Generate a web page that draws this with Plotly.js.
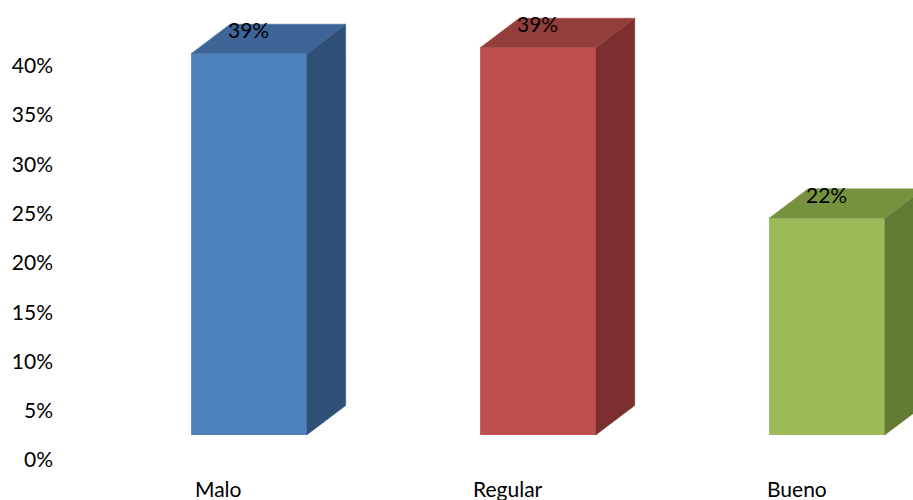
<!DOCTYPE html>
<html>
<head>
<meta charset="utf-8">
<script src="https://cdn.plot.ly/plotly-3.0.1.min.js"></script>
<style>
html,body{margin:0;padding:0;background:#fff;}
#chart{width:913px;height:500px;}
</style>
</head>
<body>
<div id="chart"></div>
<script>
// ---- data ----
const categories = ["Malo", "Regular", "Bueno"];
const values = [0.387, 0.393, 0.220];
const tickValues = [0, 0.05, 0.10, 0.15, 0.20, 0.25, 0.30, 0.35, 0.40];

// ---- styles ----
const frontColors = ["#4F81BD", "#C0504D", "#9BBB59"];
const topColors   = ["#3D6597", "#943E3C", "#77923F"];
const sideColors  = ["#2F5178", "#7B2F2E", "#627A33"];
const FONT = "Lato, 'Open Sans', sans-serif";
const barWidth = 0.4;
const depthX = 0.135;   // 3D depth in x-axis units
const depthY = 0.0299;  // 3D depth in y-axis units

const idx = categories.map((c, i) => i);

const shapes = [];
idx.forEach(i => {
  const v = values[i];
  const xl = i - barWidth / 2, xr = i + barWidth / 2;
  shapes.push({
    type: "path", xref: "x", yref: "y2", layer: "above",
    path: `M ${xr},0 L ${xr + depthX},${depthY} L ${xr + depthX},${v + depthY} L ${xr},${v} Z`,
    fillcolor: sideColors[i], line: {width: 0.5, color: sideColors[i]}
  });
  shapes.push({
    type: "path", xref: "x", yref: "y2", layer: "above",
    path: `M ${xl},${v} L ${xl + depthX},${v + depthY} L ${xr + depthX},${v + depthY} L ${xr},${v} Z`,
    fillcolor: topColors[i], line: {width: 0.5, color: topColors[i]}
  });
});

const annotations = [];
idx.forEach(i => {
  annotations.push({
    xref: "x", yref: "y2", x: i, y: values[i],
    text: Math.round(values[i] * 100) + "%",
    showarrow: false, yanchor: "middle", xanchor: "center", yshift: 24,
    font: {family: FONT, size: 21, color: "#000"}
  });
  annotations.push({
    xref: "x", yref: "paper", x: i, y: 0,
    text: categories[i],
    showarrow: false, yanchor: "top", xanchor: "center", xshift: -30, yshift: -14,
    font: {family: FONT, size: 21, color: "#000"}
  });
});

const traces = [
  { // invisible companion trace so the percentage axis is drawn
    type: "scatter", mode: "none",
    x: idx, y: values,
    xaxis: "x", yaxis: "y",
    hoverinfo: "skip", showlegend: false
  },
  {
    type: "bar",
    x: idx, y: values,
    xaxis: "x", yaxis: "y2",
    width: barWidth,
    marker: {color: frontColors, line: {width: 0}},
    hoverinfo: "skip"
  }
];

const layout = {
  width: 913, height: 500,
  margin: {l: 60, r: 0, t: 0, b: 40},
  paper_bgcolor: "#fff", plot_bgcolor: "rgba(0,0,0,0)",
  showlegend: false,
  font: {family: FONT, size: 21, color: "#000"},
  xaxis: {
    type: "linear", range: [-0.6536, 2.2979],
    showgrid: false, zeroline: false, showline: false,
    showticklabels: false, ticks: "", fixedrange: true
  },
  yaxis: {
    type: "linear", range: [0, 0.4668],
    tickmode: "array", tickvals: tickValues, tickformat: ".0%",
    showgrid: false, zeroline: false, showline: false, ticks: "",
    ticklabelstandoff: 6,
    tickfont: {family: FONT, size: 21, color: "#000"},
    fixedrange: true
  },
  yaxis2: {
    type: "linear", overlaying: "y", side: "left", anchor: "x",
    range: [-0.02537, 0.44143],
    showgrid: false, zeroline: false, showline: false,
    showticklabels: false, ticks: "", fixedrange: true
  },
  shapes: shapes,
  annotations: annotations
};

Plotly.newPlot("chart", traces, layout, {displayModeBar: false, staticPlot: true});
</script>
</body>
</html>
